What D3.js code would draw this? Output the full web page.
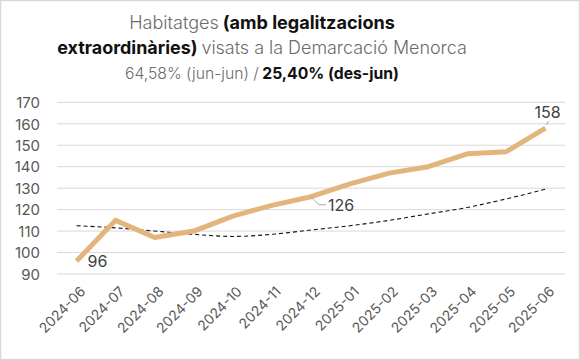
<!DOCTYPE html>
<html><head><meta charset="utf-8">
<script src="https://cdn.jsdelivr.net/npm/d3@7"></script>
<style>
body{margin:0;background:#fff;}
svg{display:block;}
</style></head>
<body>
<svg id="c" width="580" height="360"></svg>
<script>
const months = ["2024-06","2024-07","2024-08","2024-09","2024-10","2024-11","2024-12","2025-01","2025-02","2025-03","2025-04","2025-05","2025-06"];
const values = [96,115,107,110,117,122,126,132,137,140,146,147,158];
const trend = [112.5,111.5,110,108.5,107.5,108.5,110.5,112.5,115,118,121,125,129.5];
const yTicks = [90,100,110,120,130,140,150,160,170];
const labelled = {"2024-06":"96","2024-12":"126","2025-06":"158"};

const svg = d3.select("#c");
const W=580,H=360;
const font = "Inter, 'Noto Sans', sans-serif";
svg.append("rect").attr("x",0.5).attr("y",0.5).attr("width",W-1).attr("height",H-1)
  .attr("fill","#fff").attr("stroke","#d9d9d9").attr("stroke-width",1.5);

const x = d3.scalePoint().domain(months).range([57,565]).padding(0.5);
const y = d3.scaleLinear().domain([90,170]).range([274,102.3]);

// grid
const g = svg.append("g");
g.selectAll("line.grid").data(yTicks).join("line")
  .attr("x1",57).attr("x2",565).attr("y1",d=>y(d)).attr("y2",d=>y(d))
  .attr("stroke","#d9d9d9").attr("stroke-width",1);

// y axis labels
const yAxis = d3.axisLeft(y).tickValues(yTicks).tickSize(0).tickPadding(0);
const ya = svg.append("g").attr("transform","translate(40,0)").call(yAxis);
ya.select(".domain").remove();
ya.selectAll("text").attr("font-family",font).attr("font-size",15).attr("fill","#595959").attr("dy","0.35em");

// x axis labels
const xAxis = d3.axisBottom(x).tickSize(0).tickPadding(0);
const xa = svg.append("g").attr("transform","translate(0,289)").call(xAxis);
xa.select(".domain").remove();
xa.selectAll("text").attr("font-family",font).attr("font-size",14).attr("fill","#595959")
  .attr("text-anchor","end").attr("dy","0.35em")
  .attr("transform","translate(6,0) rotate(-45)");

// trend
svg.append("path").datum(trend)
  .attr("d",d3.line().x((d,i)=>x(months[i])).y(d=>y(d)).curve(d3.curveMonotoneX))
  .attr("fill","none").attr("stroke","#111").attr("stroke-width",1.1).attr("stroke-dasharray","4,3");

// main line
svg.append("path").datum(values)
  .attr("d",d3.line().x((d,i)=>x(months[i])).y(d=>y(d)))
  .attr("fill","none").attr("stroke","#e2b57c").attr("stroke-width",5).attr("stroke-linejoin","round");

// labels
const lab = svg.append("g").attr("font-family",font).attr("font-size",16).attr("fill","#404040");
const i0 = months.indexOf("2024-06");
lab.append("text").attr("x",x(months[i0])+11).attr("y",y(values[i0])+6).attr("text-anchor","start").text(labelled["2024-06"]);
const i1 = months.indexOf("2024-12");
lab.append("path").attr("d",`M${x(months[i1])}, ${y(values[i1])} L${x(months[i1])+8},${y(values[i1])+8} L${x(months[i1])+15},${y(values[i1])+8}`)
  .attr("fill","none").attr("stroke","#aaa").attr("stroke-width",1);
lab.append("text").attr("x",x(months[i1])+17).attr("y",y(values[i1])+14).text(labelled["2024-12"]);
const i2 = months.indexOf("2025-06");
lab.append("line").attr("x1",x(months[i2])+1).attr("y1",y(values[i2])-3).attr("x2",x(months[i2])+3).attr("y2",y(values[i2])-7)
  .attr("stroke","#aaa").attr("stroke-width",1);
lab.append("text").attr("x",x(months[i2])+2).attr("y",y(values[i2])-10).attr("text-anchor","middle").text(labelled["2025-06"]);

// title: each segment as own text element, sized so the line matches the reference width
const t = svg.append("g").attr("font-family",font);
const lines = [
  [["Habitatges",300,"#6b6b6b"],["(amb legalitzacions",700,"#111"]],
  [["extraordinàries)",700,"#111"],["visats a la Demarcació Menorca",300,"#6b6b6b"]],
  [["64,58% (jun-jun) /",300,"#6b6b6b"],["25,40% (des-jun)",700,"#111"]]
];
const bases=[29,54,79];
const widths=[266,410,274];
const cx = 262, gapRatio = 0.22;
lines.forEach((ln,i)=>{
  let fs = 18;
  const els = ln.map(s=>t.append("text").attr("y",bases[i]).attr("font-size",fs)
     .attr("font-weight",s[1]).attr("fill",s[2]).text(s[0]));
  const measure = ()=> els.reduce((a,e)=>a+e.node().getComputedTextLength(),0) + fs*gapRatio*(els.length-1);
  let w = measure();
  fs = Math.max(14, Math.min(20, fs*widths[i]/w));
  els.forEach(e=>e.attr("font-size",fs));
  w = measure();
  let xx = cx - w/2;
  els.forEach(e=>{ e.attr("x",xx); xx += e.node().getComputedTextLength() + fs*gapRatio; });
});
</script>
</body></html>
